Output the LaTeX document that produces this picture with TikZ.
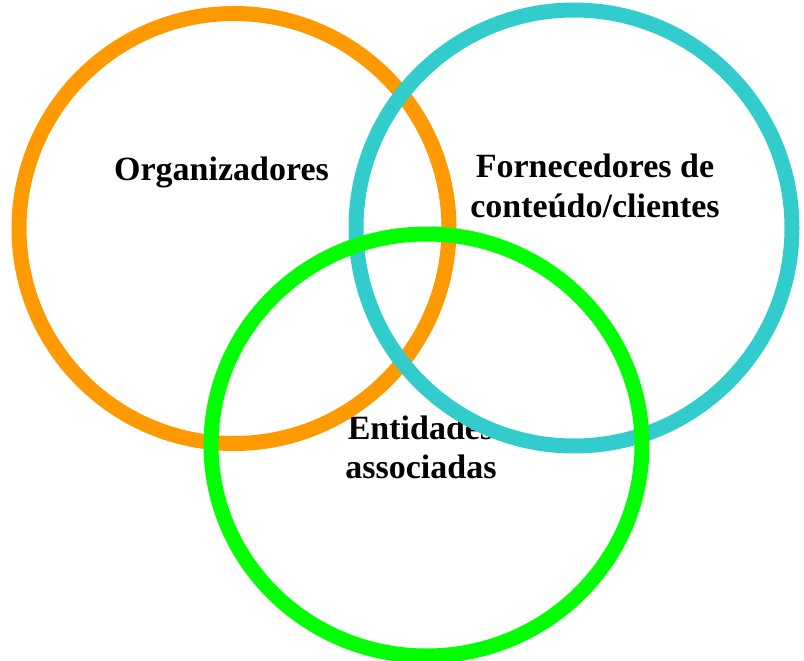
\documentclass[tikz,border=0pt]{standalone}
\usepackage{fontspec}
\setmainfont{Liberation Serif}
\definecolor{orgorange}{RGB}{255,153,0}
\definecolor{forncyan}{RGB}{51,204,204}
\definecolor{entgreen}{RGB}{0,255,0}
\tikzset{
  ring/.style={line width=15pt},
  lbl/.style={anchor=base, inner sep=0pt, font=\bfseries\fontsize{34}{39.5}\selectfont, text=black}
}
\begin{document}
\begin{tikzpicture}[x=1pt,y=-1pt]
\useasboundingbox (0,0) rectangle (804,661);
\node[lbl] (org) at (221.5,180) {Organizadores};
\node[lbl] (forn1) at (595,177.5) {Fornecedores de};
\node[lbl] (forn2) at (595,217) {conteúdo/clientes};
\node[lbl] (ent1) at (420.5,439) {Entidades};
\node[lbl] (ent2) at (421,478) {associadas};
\draw[ring, orgorange] (234,228.5) circle[radius=215];
\draw[ring, forncyan] (574,228) circle[radius=218];
\draw[ring, entgreen] (426.5,445) ellipse[x radius=215.5, y radius=211];
\end{tikzpicture}
\end{document}
